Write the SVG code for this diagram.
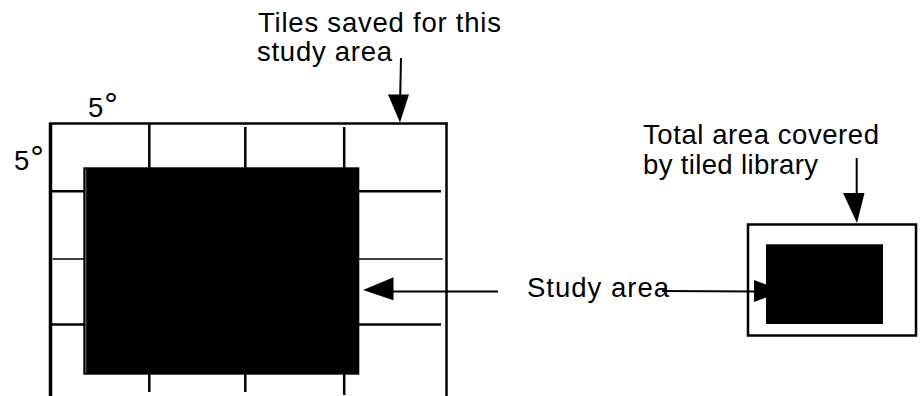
<svg xmlns="http://www.w3.org/2000/svg" width="923" height="396" viewBox="0 0 923 396">
  <style>
    .ln { stroke: #000; stroke-width: 2.5; fill: none; }
    .thin { stroke: #000; stroke-width: 1.6; fill: none; }
    .lbl { font-family: "Liberation Sans", Arial, Helvetica, sans-serif; font-size: 27.5px; fill: #000; }
    .deg { font-size: 34px; }
    .solid { fill: #000; }
    .head { fill: #000; stroke: none; }
  </style>
  <rect width="923" height="396" fill="#fff"/>

  <!-- 5 degree tile grid with the study area laid over it -->
  <g id="tile-grid">
    <line class="ln" x1="50.5" y1="123" x2="50.5" y2="396" style="stroke-width:3.5"/>
    <line class="ln" x1="49" y1="123.5" x2="447.5" y2="123.5"/>
    <line class="ln" x1="446.5" y1="122.5" x2="446.5" y2="396"/>
    <!-- upper column stubs -->
    <line class="ln" x1="149.3" y1="124" x2="149.3" y2="168"/>
    <line class="ln" x1="245.3" y1="127" x2="245.3" y2="168"/>
    <line class="ln" x1="344.2" y1="127" x2="344.2" y2="168"/>
    <!-- lower column stubs -->
    <line class="ln" x1="149.3" y1="374" x2="149.3" y2="392"/>
    <line class="ln" x1="245.3" y1="374" x2="245.3" y2="392"/>
    <line class="ln" x1="344.2" y1="374" x2="344.2" y2="395"/>
    <!-- row lines -->
    <line class="ln" x1="50" y1="191.3" x2="441" y2="191.3"/>
    <line class="thin" x1="52.7" y1="259" x2="442.7" y2="259"/>
    <line class="ln" x1="50" y1="324.5" x2="441" y2="324.5"/>
  </g>

  <g id="study-area">
    <rect class="solid" x="83.3" y="167.3" width="276" height="207.4"/>
    <line x1="85.8" y1="169" x2="85.8" y2="373" stroke="#7a7a7a" stroke-width="1"/>
  </g>

  <g id="degree-labels">
    <text class="lbl" x="88" y="116.7">5<tspan class="deg" dx="1" dy="-1">°</tspan></text>
    <text class="lbl" x="14" y="170">5<tspan class="deg" dx="1" dy="-1">°</tspan></text>
  </g>

  <g id="tiles-label">
    <text class="lbl" x="258" y="31.7" textLength="243" lengthAdjust="spacing">Tiles saved for this</text>
    <text class="lbl" x="257" y="60.5" textLength="135" lengthAdjust="spacing">study area</text>
  </g>

  <g id="study-label">
    <text class="lbl" x="527" y="296.7" textLength="142" lengthAdjust="spacing">Study area</text>
  </g>

  <g id="library-label">
    <text class="lbl" x="643" y="144.3" textLength="236" lengthAdjust="spacing">Total area covered</text>
    <text class="lbl" x="643" y="173.5" textLength="175" lengthAdjust="spacing">by tiled library</text>
  </g>

  <!-- library extent with the study area inside -->
  <g id="library-box">
    <rect x="748" y="224.5" width="168" height="111" fill="#fff" stroke="#000" stroke-width="2.5"/>
    <rect class="solid" x="766" y="244.3" width="117" height="79.7"/>
  </g>

  <g id="connectors">
    <!-- to the grid -->
    <line class="ln" x1="401" y1="58" x2="400.2" y2="96" style="stroke-width:2"/>
    <polygon class="head" points="388,94.5 409,94.5 400,122.5"/>
    <!-- to the study area on the grid -->
    <line class="ln" x1="392" y1="291.5" x2="498" y2="291.5" style="stroke-width:2"/>
    <polygon class="head" points="393.5,277.3 393.5,300.3 363,290"/>
    <!-- to the study area inside the library box -->
    <line class="ln" x1="662" y1="291" x2="756" y2="291.5" style="stroke-width:2"/>
    <polygon class="head" points="754,280 754,302 784,291"/>
    <!-- to the library box -->
    <line class="ln" x1="856.7" y1="158" x2="856.7" y2="195" style="stroke-width:2"/>
    <polygon class="head" points="843,193 864.5,193 857,223"/>
  </g>
</svg>
